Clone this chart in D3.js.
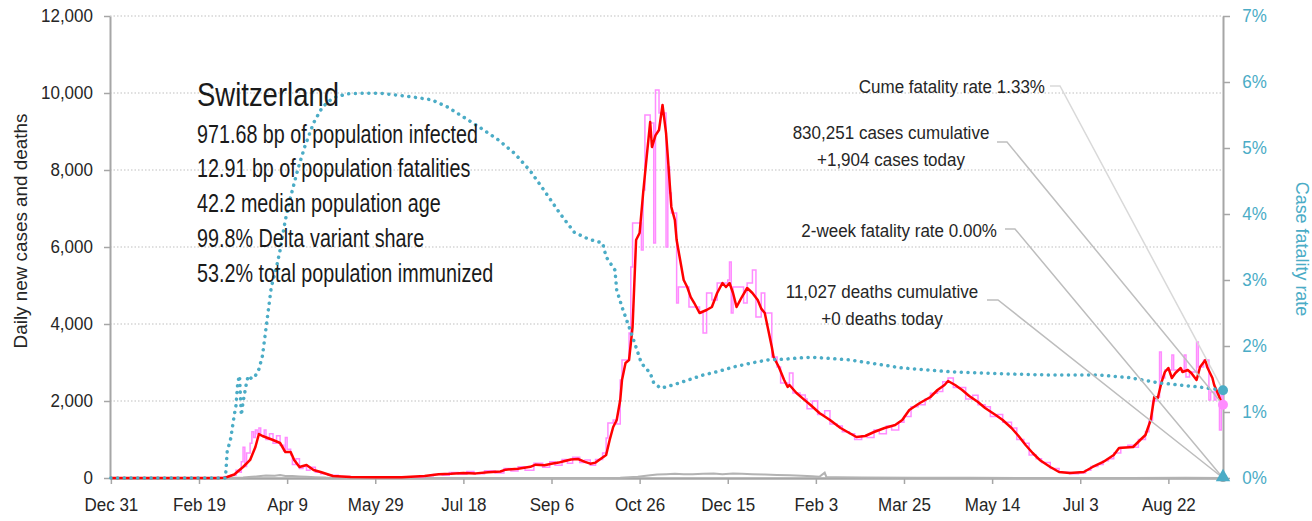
<!DOCTYPE html>
<html>
<head>
<meta charset="utf-8">
<script src="https://cdn.jsdelivr.net/npm/d3@7"></script>
<style>
  body { margin: 0; background: #fff; }
  svg { display: block; font-family: "Liberation Sans", Arial, sans-serif; }
</style>
</head>
<body>
<svg id="chart" width="1312" height="521"></svg>
<script>
// ---- data -------------------------------------------------------------
const country = "Switzerland";
const statLines = [
  "971.68 bp of population infected",
  "12.91 bp of population fatalities",
  "42.2 median population age",
  "99.8% Delta variant share",
  "53.2% total population immunized"
];
const casesCumulative = 830251;
const casesToday = 1904;
const deathsCumulative = 11027;
const deathsToday = 0;
const twoWeekFatalityRate = 0.0;

const firstTickDate = "2019-12-31";
const tickStepDays = 50;
const tickCount = 13;
const caseTicks = [0, 2000, 4000, 6000, 8000, 10000, 12000];
const rateTicks = [0, 0.01, 0.02, 0.03, 0.04, 0.05, 0.06, 0.07];

// 7-day average of new cases
const casesAvg = [
["2019-12-31",0],["2020-02-29",0],["2020-03-04",5],["2020-03-06",26],["2020-03-10",90],["2020-03-15",286],["2020-03-19",468],["2020-03-22",805],["2020-03-24",1143],["2020-03-26",1090],["2020-03-29",1039],["2020-04-01",987],["2020-04-05",909],["2020-04-08",675],["2020-04-11",675],["2020-04-13",468],["2020-04-16",286],["2020-04-20",338],["2020-04-24",208],["2020-04-28",156],["2020-05-05",52],["2020-05-15",26],["2020-05-29",20],["2020-06-13",22],["2020-06-26",50],["2020-07-04",100],["2020-07-11",110],["2020-07-18",130],["2020-07-25",120],["2020-08-01",150],["2020-08-08",170],["2020-08-11",216],["2020-08-18",240],["2020-08-25",290],["2020-08-28",346],["2020-09-02",330],["2020-09-06",372],["2020-09-10",400],["2020-09-13",433],["2020-09-17",480],["2020-09-21",493],["2020-09-25",420],["2020-09-28",372],["2020-10-01",400],["2020-10-03",468],["2020-10-07",597],["2020-10-09",987],["2020-10-11",1325],["2020-10-13",1506],["2020-10-15",2026],["2020-10-16",2545],["2020-10-18",2987],["2020-10-20",3065],["2020-10-22",3922],["2020-10-24",6182],["2020-10-26",6364],["2020-10-28",7403],["2020-10-30",8338],["2020-11-01",9247],["2020-11-02",8597],["2020-11-04",8900],["2020-11-06",9040],["2020-11-08",9690],["2020-11-10",8960],["2020-11-11",8340],["2020-11-13",7040],["2020-11-15",6700],["2020-11-16",6180],["2020-11-18",5660],["2020-11-20",5143],["2020-11-22",4960],["2020-11-24",4700],["2020-11-26",4545],["2020-11-29",4286],["2020-12-03",4364],["2020-12-06",4442],["2020-12-09",4805],["2020-12-12",5065],["2020-12-14",4961],["2020-12-16",5065],["2020-12-18",4805],["2020-12-20",4442],["2020-12-23",4701],["2020-12-26",4935],["2020-12-29",4805],["2021-01-01",4623],["2021-01-03",4400],["2021-01-05",4286],["2021-01-07",3844],["2021-01-09",3403],["2021-01-10",3143],["2021-01-13",2883],["2021-01-16",2545],["2021-01-18",2364],["2021-01-19",2416],["2021-01-23",2208],["2021-01-27",2050],["2021-01-31",1896],["2021-02-05",1688],["2021-02-11",1506],["2021-02-17",1299],["2021-02-22",1169],["2021-02-26",1065],["2021-03-03",1091],["2021-03-08",1195],["2021-03-14",1299],["2021-03-20",1377],["2021-03-24",1506],["2021-03-28",1766],["2021-04-03",1948],["2021-04-09",2104],["2021-04-13",2286],["2021-04-17",2416],["2021-04-19",2519],["2021-04-23",2416],["2021-04-27",2286],["2021-05-01",2130],["2021-05-06",1974],["2021-05-10",1818],["2021-05-16",1636],["2021-05-20",1506],["2021-05-25",1299],["2021-05-29",1091],["2021-06-02",857],["2021-06-06",649],["2021-06-10",468],["2021-06-16",286],["2021-06-21",156],["2021-06-27",130],["2021-07-05",156],["2021-07-10",286],["2021-07-16",416],["2021-07-22",597],["2021-07-25",779],["2021-08-02",805],["2021-08-06",987],["2021-08-09",1117],["2021-08-12",1506],["2021-08-14",2104],["2021-08-16",2078],["2021-08-18",2468],["2021-08-20",2753],["2021-08-22",2857],["2021-08-24",2597],["2021-08-26",2727],["2021-08-29",2857],["2021-08-30",2753],["2021-09-02",2805],["2021-09-04",2727],["2021-09-07",2545],["2021-09-09",2883],["2021-09-12",3065],["2021-09-13",2883],["2021-09-16",2597],["2021-09-17",2416],["2021-09-19",2208],["2021-09-21",1974],["2021-09-22",1896]
];

// reported new cases per day
const casesDaily = [
["2019-12-31",0],["2020-02-25",0],["2020-03-01",10],["2020-03-05",40],["2020-03-08",70],["2020-03-11",200],["2020-03-13",150],["2020-03-14",420],["2020-03-15",800],["2020-03-16",300],["2020-03-17",650],["2020-03-19",900],["2020-03-20",1200],["2020-03-21",1050],["2020-03-22",1250],["2020-03-23",1150],["2020-03-24",1300],["2020-03-25",1100],["2020-03-27",1250],["2020-03-28",1000],["2020-03-30",1150],["2020-04-01",900],["2020-04-03",1100],["2020-04-05",850],["2020-04-07",700],["2020-04-08",1050],["2020-04-09",750],["2020-04-11",600],["2020-04-12",350],["2020-04-14",500],["2020-04-16",250],["2020-04-18",300],["2020-04-20",200],["2020-04-22",280],["2020-04-25",150],["2020-04-28",110],["2020-05-02",70],["2020-05-08",40],["2020-05-15",20],["2020-06-01",20],["2020-06-15",25],["2020-06-26",60],["2020-07-01",90],["2020-07-06",70],["2020-07-10",140],["2020-07-15",100],["2020-07-20",170],["2020-07-24",110],["2020-07-30",190],["2020-08-05",130],["2020-08-10",250],["2020-08-14",180],["2020-08-18",290],["2020-08-22",200],["2020-08-27",380],["2020-09-01",280],["2020-09-05",420],["2020-09-08",330],["2020-09-12",480],["2020-09-15",380],["2020-09-18",540],["2020-09-22",400],["2020-09-25",470],["2020-09-28",330],["2020-10-01",480],["2020-10-05",649],["2020-10-07",1039],["2020-10-08",1429],["2020-10-11",1506],["2020-10-13",1400],["2020-10-15",2545],["2020-10-16",3065],["2020-10-19",3065],["2020-10-20",3766],["2020-10-21",5481],["2020-10-22",6623],["2020-10-25",6623],["2020-10-27",5922],["2020-10-28",7480],["2020-10-29",9429],["2020-11-01",9221],["2020-11-03",6104],["2020-11-04",10078],["2020-11-05",10078],["2020-11-06",9481],["2020-11-08",9481],["2020-11-10",6000],["2020-11-11",8078],["2020-11-12",7403],["2020-11-13",6883],["2020-11-15",6883],["2020-11-16",4545],["2020-11-17",4961],["2020-11-21",4961],["2020-11-23",4442],["2020-11-29",4286],["2020-12-01",3766],["2020-12-03",4805],["2020-12-06",4623],["2020-12-09",5065],["2020-12-15",5143],["2020-12-16",5610],["2020-12-17",4286],["2020-12-18",4961],["2020-12-23",4961],["2020-12-24",4545],["2020-12-26",5065],["2020-12-29",5403],["2020-12-31",4182],["2021-01-03",4805],["2021-01-05",4286],["2021-01-07",4286],["2021-01-09",3143],["2021-01-10",3143],["2021-01-12",2883],["2021-01-14",2468],["2021-01-18",2416],["2021-01-19",2727],["2021-01-21",2208],["2021-01-25",2156],["2021-01-28",2050],["2021-01-29",1800],["2021-02-01",2000],["2021-02-04",1650],["2021-02-08",1750],["2021-02-11",1400],["2021-02-15",1350],["2021-02-18",1200],["2021-02-22",1150],["2021-02-25",1000],["2021-03-01",1100],["2021-03-04",1050],["2021-03-08",1250],["2021-03-11",1150],["2021-03-15",1350],["2021-03-18",1250],["2021-03-22",1450],["2021-03-25",1600],["2021-03-29",1850],["2021-04-02",1900],["2021-04-06",2050],["2021-04-09",2200],["2021-04-13",2250],["2021-04-16",2500],["2021-04-19",2600],["2021-04-22",2350],["2021-04-26",2350],["2021-04-29",2050],["2021-05-03",2150],["2021-05-06",1900],["2021-05-10",1850],["2021-05-13",1600],["2021-05-17",1650],["2021-05-20",1450],["2021-05-25",1300],["2021-05-28",1000],["2021-06-01",900],["2021-06-04",600],["2021-06-08",500],["2021-06-11",400],["2021-06-16",250],["2021-06-21",150],["2021-06-27",110],["2021-07-02",130],["2021-07-06",200],["2021-07-09",300],["2021-07-13",350],["2021-07-16",450],["2021-07-19",500],["2021-07-22",650],["2021-07-26",800],["2021-07-30",850],["2021-08-02",800],["2021-08-05",1000],["2021-08-09",1200],["2021-08-11",1500],["2021-08-13",2000],["2021-08-15",2100],["2021-08-17",3273],["2021-08-18",2597],["2021-08-20",2805],["2021-08-24",3195],["2021-08-25",2805],["2021-08-31",3195],["2021-09-01",2623],["2021-09-03",2753],["2021-09-07",3532],["2021-09-08",2883],["2021-09-11",3065],["2021-09-14",2026],["2021-09-15",2234],["2021-09-17",2026],["2021-09-18",2234],["2021-09-20",1247],["2021-09-21",2156],["2021-09-22",1904]
];

// reported deaths per day
const deathsDaily = [
["2019-12-31",0],["2020-03-05",0],["2020-03-15",10],["2020-03-20",30],["2020-03-25",50],["2020-03-28",65],["2020-04-02",60],["2020-04-05",75],["2020-04-08",55],["2020-04-12",50],["2020-04-16",40],["2020-04-20",30],["2020-04-25",20],["2020-05-01",10],["2020-05-10",5],["2020-05-20",2],["2020-06-10",1],["2020-10-01",2],["2020-10-15",8],["2020-10-25",30],["2020-11-01",70],["2020-11-05",90],["2020-11-10",100],["2020-11-15",110],["2020-11-20",95],["2020-11-25",100],["2020-12-01",110],["2020-12-07",120],["2020-12-12",100],["2020-12-18",115],["2020-12-23",110],["2020-12-29",100],["2021-01-05",90],["2021-01-12",80],["2021-01-19",70],["2021-01-26",60],["2021-02-01",45],["2021-02-05",30],["2021-02-08",140],["2021-02-09",20],["2021-02-15",20],["2021-03-01",10],["2021-04-01",5],["2021-05-01",5],["2021-06-01",2],["2021-08-01",2],["2021-09-01",5],["2021-09-22",0]
];

// cumulative case fatality rate, percent
const fatalityRate = [
["2019-12-31",0],["2020-03-05",0],["2020-03-06",0.4],["2020-03-08",0.6],["2020-03-10",0.95],["2020-03-11",1.1],["2020-03-12",1.45],["2020-03-13",1.55],["2020-03-14",0.95],["2020-03-15",1.15],["2020-03-17",1.45],["2020-03-18",1.55],["2020-03-20",1.5],["2020-03-22",1.55],["2020-03-24",1.65],["2020-03-26",1.85],["2020-03-31",2.89],["2020-04-03",3.2],["2020-04-05",3.45],["2020-04-08",3.91],["2020-04-11",4.26],["2020-04-15",4.67],["2020-04-19",5.02],["2020-04-24",5.38],["2020-04-29",5.62],["2020-05-05",5.76],["2020-05-13",5.82],["2020-05-22",5.83],["2020-06-01",5.83],["2020-06-11",5.80],["2020-06-20",5.77],["2020-06-30",5.73],["2020-07-09",5.62],["2020-07-18",5.47],["2020-07-28",5.30],["2020-08-07",5.12],["2020-08-16",4.92],["2020-08-25",4.65],["2020-09-02",4.35],["2020-09-11",4.0],["2020-09-19",3.72],["2020-09-27",3.62],["2020-10-05",3.56],["2020-10-07",3.35],["2020-10-12",3.15],["2020-10-13",2.85],["2020-10-16",2.59],["2020-10-20",2.29],["2020-10-24",1.98],["2020-10-27",1.74],["2020-11-01",1.59],["2020-11-03",1.44],["2020-11-07",1.36],["2020-11-14",1.41],["2020-11-22",1.48],["2020-12-01",1.56],["2020-12-09",1.61],["2020-12-18",1.68],["2020-12-28",1.74],["2021-01-07",1.79],["2021-01-16",1.80],["2021-01-25",1.82],["2021-02-01",1.83],["2021-02-22",1.79],["2021-03-23",1.67],["2021-04-20",1.61],["2021-05-18",1.58],["2021-06-16",1.56],["2021-07-14",1.56],["2021-07-31",1.52],["2021-08-17",1.44],["2021-09-08",1.38],["2021-09-22",1.33]
];

// ---- layout -----------------------------------------------------------
const plot = { left: 110, right: 1223, top: 16, bottom: 478 };
const colors = {
  daily: "#ff8cff", avg: "#ff0000", rate: "#4bacc6", deaths: "#b3b3b3",
  axis: "#a6a6a6", grid: "#bfbfbf", text: "#262626"
};
// horizontal squeeze applied to the text faces (narrow lettering)
const squeeze = { tick: 0.92, note: 0.92, stat: 0.79, title: 0.82, axisTitle: 1.02 };

const parse = d3.utcParse("%Y-%m-%d");
const toPoints = arr => arr.map(([d, v]) => ({ date: parse(d), value: v }));
const avgPts = toPoints(casesAvg);
const dailyPts = toPoints(casesDaily);
const deathPts = toPoints(deathsDaily);
const ratePts = toPoints(fatalityRate).map(p => ({ date: p.date, value: p.value / 100 }));

const lastDate = avgPts[avgPts.length - 1].date;
const x = d3.scaleUtc()
  .domain([d3.utcHour.offset(parse(firstTickDate), -12), lastDate])
  .range([plot.left, plot.right]);
const y = d3.scaleLinear().domain([0, 12000]).range([plot.bottom, plot.top]);
const yRate = d3.scaleLinear().domain([0, 0.07]).range([plot.bottom, plot.top]);

const svg = d3.select("#chart");

// text placed at (tx, ty) with a horizontal squeeze
function label(parent, tx, ty, str, opts) {
  return parent.append("text")
    .attr("transform", `translate(${tx},${ty})${opts.rotate ? ` rotate(${opts.rotate})` : ""} scale(${opts.sx},1)`)
    .attr("text-anchor", opts.anchor || "start")
    .attr("fill", opts.fill || colors.text)
    .style("font-size", opts.size + "px")
    .text(str);
}

// horizontal dotted grid
svg.append("g").selectAll("line")
  .data(caseTicks.filter(t => t > 0))
  .join("line")
  .attr("x1", plot.left).attr("x2", plot.right)
  .attr("y1", d => y(d)).attr("y2", d => y(d))
  .attr("stroke", colors.grid).attr("stroke-width", 1.2)
  .attr("stroke-dasharray", "1.5 2");

// axes
const tickDates = d3.range(tickCount).map(i => d3.utcDay.offset(parse(firstTickDate), i * tickStepDays));

const styleAxis = (g, color) => {
  g.select(".domain").attr("stroke", colors.axis).attr("stroke-width", 2);
  g.selectAll(".tick line").attr("stroke", colors.axis).attr("stroke-width", 1.5);
  g.selectAll(".tick text").attr("fill", color)
    .attr("transform", `scale(${squeeze.tick},1)`)
    .style("font-size", "18.5px")
    .style("font-family", "inherit");
};

svg.append("g")
  .attr("transform", `translate(${plot.left},0)`)
  .call(d3.axisLeft(y).tickValues(caseTicks).tickFormat(d3.format(",")).tickSize(6).tickSizeOuter(0).tickPadding(12.5))
  .call(g => styleAxis(g, colors.text));

svg.append("g")
  .attr("transform", `translate(${plot.right},0)`)
  .call(d3.axisRight(yRate).tickValues(rateTicks).tickFormat(d3.format(".0%")).tickSize(7).tickSizeOuter(0).tickPadding(14))
  .call(g => styleAxis(g, colors.rate));

svg.append("g")
  .attr("transform", `translate(0,${plot.bottom})`)
  .call(d3.axisBottom(x).tickValues(tickDates).tickFormat(d3.utcFormat("%b %-d")).tickSize(6).tickSizeOuter(0).tickPadding(14))
  .call(g => styleAxis(g, colors.text))
  .call(g => g.select(".domain").attr("stroke-width", 2.5));

// axis titles
label(svg, 27, 231, "Daily new cases and deaths",
  { rotate: -90, sx: squeeze.axisTitle, anchor: "middle", size: 18.5 });
label(svg, 1296, 249, "Case fatality rate",
  { rotate: 90, sx: 0.97, anchor: "middle", size: 18.5, fill: colors.rate });

// series
const lineOf = (scale, curve) => d3.line().x(d => x(d.date)).y(d => scale(d.value)).curve(curve);

svg.append("path").datum(deathPts)
  .attr("d", lineOf(y, d3.curveLinear))
  .attr("fill", "none").attr("stroke", colors.deaths).attr("stroke-width", 2);

svg.append("path").datum(dailyPts)
  .attr("d", lineOf(y, d3.curveStepAfter))
  .attr("fill", "none").attr("stroke", colors.daily).attr("stroke-width", 1.5);

svg.append("path").datum(avgPts)
  .attr("d", lineOf(y, d3.curveLinear))
  .attr("fill", "none").attr("stroke", colors.avg).attr("stroke-width", 2.5)
  .attr("stroke-linejoin", "round");

svg.append("path").datum(ratePts)
  .attr("d", lineOf(yRate, d3.curveLinear))
  .attr("fill", "none").attr("stroke", colors.rate).attr("stroke-width", 3.5)
  .attr("stroke-linecap", "round").attr("stroke-dasharray", "0.1 6.6");

// country block
const info = svg.append("g");
label(info, 197, 106, country, { sx: squeeze.title, size: 33.5, fill: "#1a1a1a" });
statLines.forEach((s, i) =>
  label(info, 197, 142.5 + i * 34.8, s, { sx: squeeze.stat, size: 25, fill: "#1a1a1a" }));

// end-of-series markers and callouts
const lastX = x(lastDate);
const lastRate = ratePts[ratePts.length - 1].value;
const lastDaily = dailyPts[dailyPts.length - 1].value;
const pct = d3.format(".2%");
const num = d3.format(",");

const callouts = [
  { lines: [`Cume fatality rate ${pct(lastRate)}`], anchor: "end", tx: 1045, ty: 93,
    lead: [1050, 86, 1060, 86], target: [lastX, yRate(lastRate)], stroke: "#d9d9d9" },
  { lines: [`${num(casesCumulative)} cases cumulative`, `+${num(casesToday)} cases today`], anchor: "middle", tx: 891, ty: 139,
    lead: [997, 142, 1007, 142], target: [lastX, y(lastDaily)], stroke: "#bfbfbf" },
  { lines: [`2-week fatality rate ${pct(twoWeekFatalityRate)}`], anchor: "end", tx: 997, ty: 237,
    lead: [1005, 229, 1015, 229], target: [lastX, yRate(twoWeekFatalityRate)], stroke: "#bdbdbd" },
  { lines: [`${num(deathsCumulative)} deaths cumulative`, `+${num(deathsToday)} deaths today`], anchor: "middle", tx: 882, ty: 298,
    lead: [987, 300, 998, 300], target: [lastX, y(deathsToday)], stroke: "#bdbdbd" }
];

const cg = svg.append("g");
callouts.forEach(c => {
  cg.append("polyline")
    .attr("points", [[c.lead[0], c.lead[1]], [c.lead[2], c.lead[3]], c.target].map(p => p.join(",")).join(" "))
    .attr("fill", "none").attr("stroke", c.stroke).attr("stroke-width", 1.5);
  c.lines.forEach((t, i) =>
    label(cg, c.tx, c.ty + i * 26.5, t, { sx: squeeze.note, anchor: c.anchor, size: 18.5 }));
});

svg.append("circle").attr("cx", lastX).attr("cy", y(deathsToday)).attr("r", 4).attr("fill", "#a6a6a6");
svg.append("path")
  .attr("d", d3.symbol(d3.symbolTriangle, 90)())
  .attr("transform", `translate(${lastX},${yRate(twoWeekFatalityRate) - 1})`)
  .attr("fill", colors.rate);
svg.append("circle").attr("cx", lastX).attr("cy", yRate(lastRate)).attr("r", 5).attr("fill", colors.rate);
svg.append("circle").attr("cx", lastX).attr("cy", y(lastDaily)).attr("r", 5).attr("fill", colors.daily);
</script>
</body>
</html>
